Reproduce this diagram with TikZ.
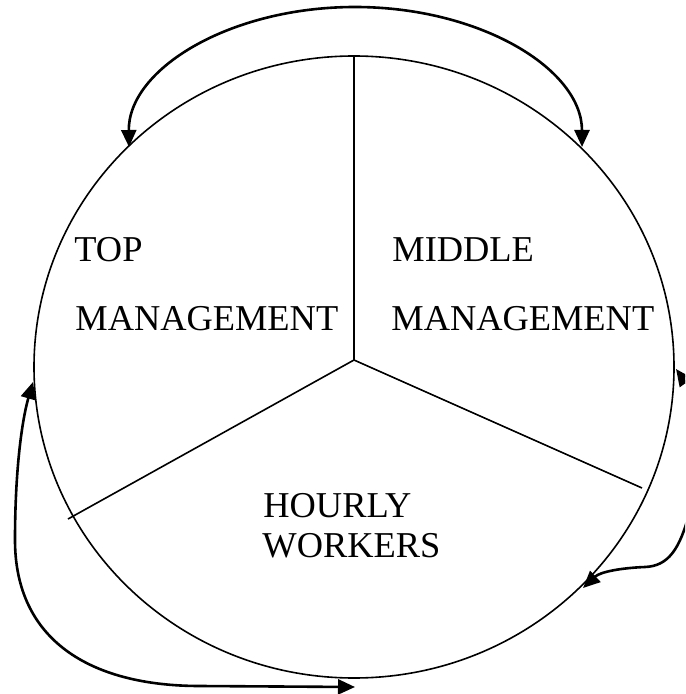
\documentclass[tikz,border=0pt]{standalone}
\usepackage{fontspec}
\setmainfont{Liberation Serif}
\usetikzlibrary{arrows.meta}
\begin{document}
\begin{tikzpicture}[x=0.5pt,y=-0.5pt,
  ringline/.style={line width=0.8pt},
  spokeline/.style={line width=0.8pt},
  flowarrow/.style={line width=1.3pt,{Triangle[length=8.5pt,width=7.5pt]}-{Triangle[length=8.5pt,width=7.5pt]}},
  txt/.style={anchor=base west,inner sep=0pt,font=\fontsize{18.2pt}{21pt}\selectfont}]
\useasboundingbox (0,0) rectangle (685,694);
\clip (0,0) rectangle (685,694);
\fill[white] (0,0) rectangle (685,694);
% circle
\draw[ringline] (354,367) ellipse [x radius=160pt, y radius=155.5pt];
% spokes
\coordinate (c) at (354,360);
\coordinate (t) at (354,56);
\coordinate (ll) at (68,519);
\coordinate (lr) at (642,488);
\draw[spokeline] (c) -- (t);
\draw[spokeline] (c) -- (ll);
\draw[spokeline] (c) -- (lr);
% labels
\node[txt] (top1) at (74,262) {TOP};
\node[txt] (top2) at (75,330) {MANAGEMENT};
\node[txt] (mid1) at (392,262) {MIDDLE};
\node[txt] (mid2) at (391,330) {MANAGEMENT};
\node[txt] (hw1) at (263,517) {HOURLY};
\node[txt] (hw2) at (262,557) {WORKERS};
% top arrow
\coordinate (ta) at (129,147);
\coordinate (tb) at (582,147);
\coordinate (tm) at (355,7);
\draw[flowarrow] (ta) .. controls (128,69) and (230,7) .. (tm) .. controls (480,7) and (582,69) .. (tb);
% left arrow
\coordinate (la) at (33,382);
\coordinate (lb) at (355,687);
\draw[flowarrow] (la) .. controls (22,420) and (15,470) .. (15,540) .. controls (15,640) and (90,686) .. (200,686) -- (lb);
% right arrow
\coordinate (ra) at (676,369);
\coordinate (rb) at (583,588);
\draw[flowarrow] (ra) .. controls (695,395) and (702,450) .. (690,510) .. controls (680,550) and (668,566) .. (645,567) .. controls (620,568) and (600,572) .. (rb);
\end{tikzpicture}
\end{document}
